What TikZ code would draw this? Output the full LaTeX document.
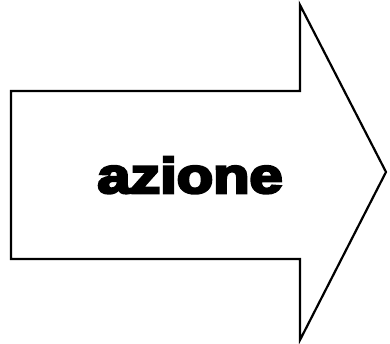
\documentclass[tikz,border=0pt]{standalone}
\usepackage{fontspec}
\usepackage{graphicx}
\newfontfamily\heavyfont[FakeBold=5]{Liberation Sans Bold}
\begin{document}
\begin{tikzpicture}[x=1pt,y=-1pt,
  outline/.style={draw=black,line width=2.2pt,line join=miter,fill=white},
  label/.style={font=\heavyfont\fontsize{50}{50}\selectfont,inner sep=0pt,anchor=base}]
\useasboundingbox (0,0) rectangle (390,344);
% block arrow
\draw[outline] (11,91) -- (300,91) -- (300,5) -- (386,172) -- (300,340)
  -- (300,259) -- (11,259) -- cycle;
\node[label] (txt) at (190,193) {\scalebox{1.19}[1]{azione}};
\end{tikzpicture}
\end{document}
